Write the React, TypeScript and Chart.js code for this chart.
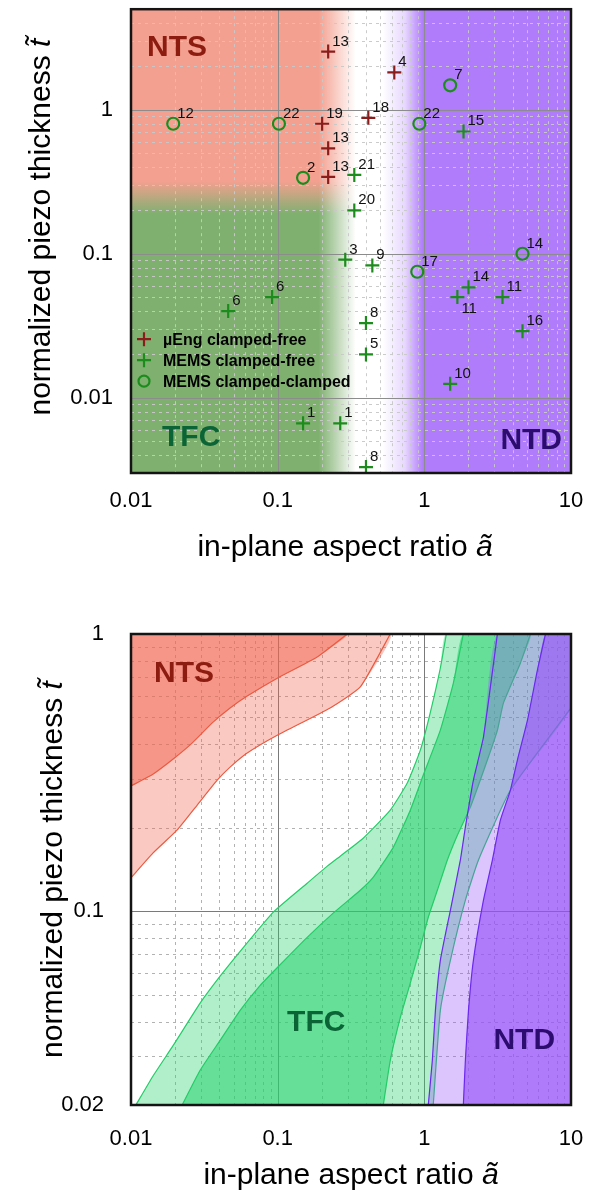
import React, { useEffect, useRef } from 'react';
import { Chart, registerables } from 'chart.js';

Chart.register(...registerables);

const FONT = '"Liberation Sans", Arial, Helvetica, sans-serif';
Chart.defaults.font.family = FONT;

// ---------------- Top chart: devices from literature ----------------
const seriesNames = ['µEng clamped-free', 'MEMS clamped-free', 'MEMS clamped-clamped'];

const muEngA = [0.221, 0.624, 0.201, 0.415, 0.221, 0.221];
const muEngT = [2.54, 1.82, 0.8, 0.88, 0.54, 0.342];
const muEngRef = ['13', '4', '19', '18', '13', '13'];

const cfA = [0.333, 0.333, 0.289, 0.442, 1.85, 0.046, 0.0916, 0.4, 0.4, 0.149, 0.267, 0.4, 2.0, 1.68, 3.41, 4.67, 1.5];
const cfT = [0.353, 0.2, 0.091, 0.083, 0.707, 0.04, 0.05, 0.033, 0.02, 0.00664, 0.00664, 0.0033, 0.0585, 0.05, 0.05, 0.029, 0.0125];
const cfRef = ['21', '20', '3', '9', '15', '6', '6', '8', '5', '1', '1', '8', '14', '11', '11', '16', '10'];
const cfRefBelow = [13];

const ccA = [0.0194, 0.102, 0.149, 0.925, 1.5, 4.67, 0.895];
const ccT = [0.8, 0.8, 0.337, 0.8, 1.48, 0.1, 0.075];
const ccRef = ['12', '22', '2', '22', '7', '14', '17'];

const topXRange = [0.01, 10];
const topYRange = [0.003, 5];
const topXLabels = [0.01, 0.1, 1, 10];
const topYLabels = [0.01, 0.1, 1];

// regime shading boundaries of the top chart (data units)
const ntsTfcSplitT = [0.32, 0.19];
const leftFadeA = [0.19, 0.34];
const ntdFadeA = [0.52, 0.98];

// ---------------- Bottom chart: regime maps ----------------
const botXRange = [0.01, 10];
const botYRange = [0.02, 1];
const botXLabels = [0.01, 0.1, 1, 10];
const botYLabels = [0.02, 0.1, 1];

const ntsInnerA = [0.01, 0.0141, 0.0194, 0.0253, 0.0363, 0.0474, 0.062, 0.1, 0.186, 0.298];
const ntsInnerT = [0.283, 0.312, 0.354, 0.398, 0.481, 0.541, 0.597, 0.694, 0.826, 1.0];
const ntsOuterA = [0.01, 0.0141, 0.0206, 0.0282, 0.0387, 0.0474, 0.062, 0.1, 0.228, 0.366, 0.586];
const ntsOuterT = [0.132, 0.162, 0.196, 0.241, 0.297, 0.331, 0.372, 0.432, 0.541, 0.644, 1.0];

const tfcOuterLeftA = [0.0108, 0.0141, 0.0194, 0.0296, 0.0405, 0.0555, 0.0931, 0.159, 0.218, 0.267, 0.383, 0.586, 0.765, 0.939, 1.1, 1.286, 1.413];
const tfcOuterLeftT = [0.02, 0.0254, 0.0328, 0.0466, 0.0583, 0.0717, 0.0991, 0.1262, 0.1454, 0.158, 0.1834, 0.2315, 0.29, 0.381, 0.523, 0.754, 1.0];
const tfcOuterRightA = [1.15, 1.286, 1.505, 1.905, 2.34, 3.86, 10];
const tfcOuterRightT = [0.02, 0.0439, 0.0665, 0.1096, 0.153, 0.273, 0.541];

const tfcInnerLeftA = [0.0223, 0.0296, 0.0405, 0.0555, 0.076, 0.1, 0.159, 0.239, 0.366, 0.449, 0.614, 0.802, 0.984, 1.286, 1.577, 1.845];
const tfcInnerLeftT = [0.02, 0.0267, 0.0342, 0.0439, 0.054, 0.0628, 0.0805, 0.0984, 0.119, 0.1327, 0.17, 0.2315, 0.31, 0.45, 0.665, 1.0];
const tfcInnerRightA = [0.525, 0.586, 0.686, 0.802, 0.939, 1.064, 1.227, 1.436, 1.68, 2.06, 2.69, 3.15, 3.46, 4.52, 5.29];
const tfcInnerRightT = [0.02, 0.029, 0.0414, 0.055, 0.0741, 0.0951, 0.119, 0.153, 0.188, 0.2374, 0.351, 0.45, 0.563, 0.786, 1.0];

const ntdOuterA = [1.064, 1.134, 1.19, 1.286, 1.505, 1.76, 1.905, 2.16, 2.53, 3.15];
const ntdOuterT = [0.02, 0.029, 0.0439, 0.0665, 0.1008, 0.153, 0.201, 0.297, 0.425, 1.0];
const ntdInnerA = [1.845, 1.905, 2.0, 2.16, 2.53, 2.91, 3.3, 3.86, 4.31, 5.05, 5.9, 6.7];
const ntdInnerT = [0.02, 0.029, 0.0439, 0.0665, 0.1096, 0.153, 0.213, 0.273, 0.351, 0.489, 0.741, 1.0];

// ---------------- styles ----------------
const RED = '#8b1c1c';
const GREEN = '#1c8c1c';
const SALMON = 'rgb(244,160,144)';
const OLIVE = 'rgb(128,176,112)';
const PURPLE_RGB = '176,124,252';

const NTS_LINE = '#ec5a40';
const TFC_LINE = '#22cc66';
const NTD_LINE = '#6a28f0';

const W = 602;
const TOP_H = 590;
const BOT_H = 605;
const CURVE_TENSION = 0.15;

const pts = (a: number[], t: number[]) => a.map((x, i) => ({ x, y: t[i] }));
const closeTo = (a: number[], t: number[], extra: { x: number; y: number }[]) => [...pts(a, t), ...extra];

const isMajor = (v: number) => Math.abs(Math.log10(v) - Math.round(Math.log10(v))) < 1e-6;
function logGridValues(min: number, max: number) {
  const out: number[] = [];
  for (let e = Math.floor(Math.log10(min)) - 1; e <= Math.ceil(Math.log10(max)); e++) {
    for (let m = 1; m < 10; m++) {
      const v = m * Math.pow(10, e);
      if (v > min * 1.0001 && v < max * 0.9999) out.push(v);
    }
  }
  return out;
}

function gridPlugin(minorColor: string, majorColor: string, dash: number[]) {
  return {
    id: 'logGrid',
    beforeDatasetsDraw(chart: any) {
      const { ctx, chartArea: ca, scales } = chart;
      const x = scales.x, y = scales.y;
      ctx.save();
      ctx.lineWidth = 1;
      const draw = (v: number, horiz: boolean) => {
        const maj = isMajor(v);
        ctx.strokeStyle = maj ? majorColor : minorColor;
        ctx.setLineDash(maj ? [] : dash);
        ctx.beginPath();
        if (horiz) {
          const p = Math.round(y.getPixelForValue(v)) + 0.5;
          ctx.moveTo(ca.left, p); ctx.lineTo(ca.right, p);
        } else {
          const p = Math.round(x.getPixelForValue(v)) + 0.5;
          ctx.moveTo(p, ca.top); ctx.lineTo(p, ca.bottom);
        }
        ctx.stroke();
      };
      logGridValues(x.min, x.max).filter(v => !isMajor(v)).forEach(v => draw(v, false));
      logGridValues(y.min, y.max).filter(v => !isMajor(v)).forEach(v => draw(v, true));
      logGridValues(x.min, x.max).filter(isMajor).forEach(v => draw(v, false));
      logGridValues(y.min, y.max).filter(isMajor).forEach(v => draw(v, true));
      ctx.restore();
    },
  };
}

const framePlugin = {
  id: 'frame',
  afterDraw(chart: any) {
    const { ctx, chartArea: ca } = chart;
    ctx.save();
    ctx.strokeStyle = '#141414';
    ctx.lineWidth = 2.5;
    ctx.setLineDash([]);
    ctx.strokeRect(ca.left, ca.top, ca.right - ca.left, ca.bottom - ca.top);
    ctx.restore();
  },
};

function regionLabelPlugin(items: { text: string; a: number; t: number; color: string }[]) {
  return {
    id: 'regionLabels',
    afterDatasetsDraw(chart: any) {
      const { ctx, scales } = chart;
      ctx.save();
      ctx.font = `bold 30px ${FONT}`;
      ctx.textAlign = 'left';
      ctx.textBaseline = 'alphabetic';
      for (const it of items) {
        ctx.fillStyle = it.color;
        ctx.fillText(it.text, scales.x.getPixelForValue(it.a), scales.y.getPixelForValue(it.t));
      }
      ctx.restore();
    },
  };
}

function drawParts(ctx: CanvasRenderingContext2D, parts: [string, boolean][], size: number, cx: number, cy: number) {
  const fonts = parts.map(([, it]) => `${it ? 'italic ' : ''}${size}px ${FONT}`);
  let total = 0;
  const widths = parts.map(([s], i) => { ctx.font = fonts[i]; const w = ctx.measureText(s).width; total += w; return w; });
  let x = cx - total / 2;
  parts.forEach(([s], i) => { ctx.font = fonts[i]; ctx.fillText(s, x, cy); x += widths[i]; });
}

function titlePlugin(xCenter: number, xBase: number, yBase: number, yCenterShift: number, size: number) {
  return {
    id: 'axisTitles',
    afterDraw(chart: any) {
      const { ctx, chartArea: ca } = chart;
      ctx.save();
      ctx.fillStyle = '#000';
      ctx.textAlign = 'left';
      ctx.textBaseline = 'alphabetic';
      drawParts(ctx, [['in-plane aspect ratio ', false], ['ã', true]], size, xCenter, xBase);
      ctx.translate(yBase, (ca.top + ca.bottom) / 2 + yCenterShift);
      ctx.rotate(-Math.PI / 2);
      drawParts(ctx, [['normalized piezo thickness ', false], ['t\u0303', true]], size, 0, 0);
      ctx.restore();
    },
  };
}

const refLabelPlugin = {
  id: 'refLabels',
  afterDatasetsDraw(chart: any) {
    const { ctx } = chart;
    ctx.save();
    ctx.font = `15px ${FONT}`;
    ctx.fillStyle = '#111';
    ctx.textAlign = 'left';
    ctx.textBaseline = 'alphabetic';
    chart.data.datasets.forEach((ds: any, i: number) => {
      if (!ds.refs) return;
      const meta = chart.getDatasetMeta(i);
      meta.data.forEach((el: any, j: number) => {
        const below = ds.refsBelow && ds.refsBelow.includes(j);
        ctx.fillText(ds.refs[j], el.x + 4, below ? el.y + 16 : el.y - 6);
      });
    });
    ctx.restore();
  },
};

const legendPlugin = {
  id: 'innerLegend',
  afterDatasetsDraw(chart: any) {
    const { ctx, chartArea: ca } = chart;
    ctx.save();
    ctx.font = `bold 16px ${FONT}`;
    ctx.textBaseline = 'middle';
    ctx.textAlign = 'left';
    chart.data.datasets.forEach((ds: any, i: number) => {
      const cy = ca.top + 330 + i * 21;
      const cx = ca.left + 13;
      ctx.strokeStyle = ds.borderColor;
      ctx.lineWidth = 2.2;
      ctx.beginPath();
      if (ds.pointStyle === 'circle') {
        ctx.arc(cx, cy, 5.5, 0, Math.PI * 2);
      } else {
        ctx.moveTo(cx - 7, cy); ctx.lineTo(cx + 7, cy);
        ctx.moveTo(cx, cy - 7); ctx.lineTo(cx, cy + 7);
      }
      ctx.stroke();
      ctx.fillStyle = '#000';
      ctx.fillText(ds.label, ca.left + 32, cy + 1);
    });
    ctx.restore();
  },
};

const topBackgroundPlugin = {
  id: 'regimeShading',
  beforeDraw(chart: any) {
    const { ctx, chartArea: ca, scales } = chart;
    const x = scales.x, y = scales.y;
    const w = ca.right - ca.left, h = ca.bottom - ca.top;
    ctx.save();
    ctx.beginPath();
    ctx.rect(ca.left, ca.top, w, h);
    ctx.clip();
    const y0 = y.getPixelForValue(ntsTfcSplitT[0]);
    const y1 = y.getPixelForValue(ntsTfcSplitT[1]);
    const vg = ctx.createLinearGradient(0, y0, 0, y1);
    vg.addColorStop(0, SALMON);
    vg.addColorStop(1, OLIVE);
    ctx.fillStyle = vg;
    ctx.fillRect(ca.left, ca.top, w, h);
    const x0 = x.getPixelForValue(leftFadeA[0]);
    const x1 = x.getPixelForValue(leftFadeA[1]);
    const hg = ctx.createLinearGradient(x0, 0, x1, 0);
    hg.addColorStop(0, 'rgba(255,255,255,0)');
    hg.addColorStop(1, 'rgba(255,255,255,1)');
    ctx.fillStyle = hg;
    ctx.fillRect(ca.left, ca.top, w, h);
    const p0 = x.getPixelForValue(ntdFadeA[0]);
    const p1 = x.getPixelForValue(ntdFadeA[1]);
    const pg = ctx.createLinearGradient(p0, 0, p1, 0);
    pg.addColorStop(0, `rgba(${PURPLE_RGB},0)`);
    pg.addColorStop(0.55, `rgba(${PURPLE_RGB},0.3)`);
    pg.addColorStop(1, `rgba(${PURPLE_RGB},1)`);
    ctx.fillStyle = pg;
    ctx.fillRect(ca.left, ca.top, w, h);
    ctx.restore();
  },
};

function axes(xr: number[], yr: number[], xl: number[], yl: number[], h: number, bottom: number, xPad: number, yPad: number) {
  return {
    x: {
      type: 'logarithmic',
      min: xr[0], max: xr[1], bounds: 'data',
      grid: { display: false }, border: { display: false },
      afterBuildTicks: (s: any) => { s.ticks = xl.map(v => ({ value: v })); },
      afterFit: (s: any) => { s.height = h - bottom; s.paddingLeft = 0; s.paddingRight = 0; },
      ticks: { autoSkip: false, maxRotation: 0, padding: xPad, color: '#000', font: { size: 22 }, callback: (v: any) => String(v) },
    },
    y: {
      type: 'logarithmic',
      min: yr[0], max: yr[1], bounds: 'data',
      grid: { display: false }, border: { display: false },
      afterBuildTicks: (s: any) => { s.ticks = yl.map(v => ({ value: v })); },
      afterFit: (s: any) => { s.width = 131; s.paddingTop = 0; s.paddingBottom = 0; },
      ticks: { autoSkip: false, padding: yPad, color: '#000', font: { size: 22 }, callback: (v: any) => String(v) },
    },
  };
}

export default function App() {
  const topRef = useRef<HTMLCanvasElement>(null);
  const botRef = useRef<HTMLCanvasElement>(null);

  useEffect(() => {
    const top = new Chart(topRef.current as HTMLCanvasElement, {
      type: 'scatter',
      data: {
        datasets: [
          { label: seriesNames[0], data: pts(muEngA, muEngT), pointStyle: 'cross', pointRadius: 7, borderColor: RED, backgroundColor: RED, borderWidth: 2.2, refs: muEngRef } as any,
          { label: seriesNames[1], data: pts(cfA, cfT), pointStyle: 'cross', pointRadius: 7, borderColor: GREEN, backgroundColor: GREEN, borderWidth: 2.2, refs: cfRef, refsBelow: cfRefBelow } as any,
          { label: seriesNames[2], data: pts(ccA, ccT), pointStyle: 'circle', pointRadius: 6, borderColor: GREEN, backgroundColor: 'rgba(0,0,0,0)', borderWidth: 2.2, refs: ccRef } as any,
        ],
      },
      options: {
        responsive: false,
        animation: false,
        events: [],
        layout: { padding: { left: 0, top: 2, right: 31, bottom: 0 } },
        plugins: { legend: { display: false }, tooltip: { enabled: false } },
        scales: axes(topXRange, topYRange, topXLabels, topYLabels, TOP_H, 473, 7, 10) as any,
      },
      plugins: [
        topBackgroundPlugin,
        gridPlugin('rgba(200,200,200,0.95)', '#8c8c8c', [3, 4]),
        regionLabelPlugin([
          { text: 'NTS', a: 0.01286, t: 2.38, color: '#8c1c10' },
          { text: 'TFC', a: 0.01628, t: 0.00462, color: '#0a6436' },
          { text: 'NTD', a: 3.3, t: 0.0044, color: '#2c0c6e' },
        ]),
        refLabelPlugin,
        legendPlugin,
        framePlugin,
        titlePlugin(345, 556, 50, -14, 30),
      ],
    });

    const fillDs = (data: any[], color: string, order: number) => ({
      type: 'line', data, fill: 'shape', backgroundColor: color, borderWidth: 0, pointRadius: 0, tension: CURVE_TENSION, order,
    });
    const lineDs = (data: any[], color: string, order: number) => ({
      type: 'line', data, fill: false, borderColor: color, borderWidth: 1.2, pointRadius: 0, tension: CURVE_TENSION, order,
    });
    const X0 = botXRange[0], X1 = botXRange[1], Y0 = botYRange[0], Y1 = botYRange[1];

    const bot = new Chart(botRef.current as HTMLCanvasElement, {
      type: 'line',
      data: {
        datasets: [
          fillDs(closeTo(ntsOuterA, ntsOuterT, [{ x: X0, y: Y1 }]), 'rgba(240,100,80,0.35)', 20),
          fillDs(closeTo(ntsInnerA, ntsInnerT, [{ x: X0, y: Y1 }]), 'rgba(240,100,80,0.5)', 19),
          fillDs([...pts(tfcOuterLeftA, tfcOuterLeftT), { x: X1, y: Y1 }, ...pts(tfcOuterRightA, tfcOuterRightT).reverse()], 'rgba(40,210,110,0.36)', 18),
          fillDs([...pts(tfcInnerLeftA, tfcInnerLeftT), ...pts(tfcInnerRightA, tfcInnerRightT).reverse()], 'rgba(40,210,110,0.55)', 17),
          lineDs(pts(tfcOuterLeftA, tfcOuterLeftT), TFC_LINE, 16),
          lineDs(pts(tfcOuterRightA, tfcOuterRightT), TFC_LINE, 15),
          lineDs(pts(tfcInnerLeftA, tfcInnerLeftT), TFC_LINE, 14),
          lineDs(pts(tfcInnerRightA, tfcInnerRightT), TFC_LINE, 13),
          fillDs(closeTo(ntdOuterA, ntdOuterT, [{ x: X1, y: Y1 }, { x: X1, y: Y0 }]), 'rgba(150,80,250,0.33)', 12),
          fillDs(closeTo(ntdInnerA, ntdInnerT, [{ x: X1, y: Y1 }, { x: X1, y: Y0 }]), 'rgba(150,80,250,0.63)', 11),
          lineDs(pts(ntdOuterA, ntdOuterT), NTD_LINE, 10),
          lineDs(pts(ntdInnerA, ntdInnerT), NTD_LINE, 9),
          lineDs(pts(ntsOuterA, ntsOuterT), NTS_LINE, 8),
          lineDs(pts(ntsInnerA, ntsInnerT), NTS_LINE, 7),
        ] as any,
      },
      options: {
        responsive: false,
        animation: false,
        events: [],
        layout: { padding: { left: 0, top: 44, right: 31, bottom: 0 } },
        plugins: { legend: { display: false }, tooltip: { enabled: false } },
        scales: axes(botXRange, botYRange, botXLabels, botYLabels, BOT_H, 515, 13, 19) as any,
      },
      plugins: [
        gridPlugin('rgba(170,170,170,0.9)', '#7a7a7a', [3, 4]),
        regionLabelPlugin([
          { text: 'NTS', a: 0.01436, t: 0.671, color: '#8c1c10' },
          { text: 'TFC', a: 0.116, t: 0.0369, color: '#0a6436' },
          { text: 'NTD', a: 2.96, t: 0.0318, color: '#2c0c6e' },
        ]),
        framePlugin,
        titlePlugin(351, 594, 62, 0, 30),
      ],
    });

    return () => { top.destroy(); bot.destroy(); };
  }, []);

  return (
    <div style={{ position: 'absolute', left: 0, top: 0, width: W, height: TOP_H + BOT_H, background: '#fff' }}>
      <canvas ref={topRef} width={W} height={TOP_H} style={{ position: 'absolute', left: 0, top: 0, width: W, height: TOP_H }} />
      <canvas ref={botRef} width={W} height={BOT_H} style={{ position: 'absolute', left: 0, top: TOP_H, width: W, height: BOT_H }} />
    </div>
  );
}
